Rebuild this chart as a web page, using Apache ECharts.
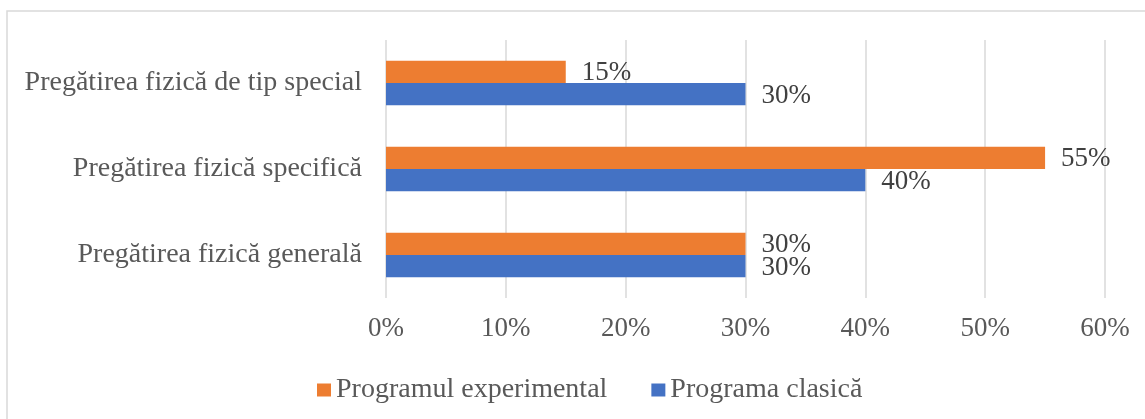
<!DOCTYPE html>
<html>
<head>
<meta charset="utf-8">
<script src="https://cdn.jsdelivr.net/npm/echarts@6/dist/echarts.min.js"></script>
<style>
  html, body { margin: 0; padding: 0; background: #fff; }
  #chart { width: 1145px; height: 419px; }
</style>
</head>
<body>
<div id="chart"></div>
<script>
// categories bottom -> top (as echarts draws the y category axis)
const categories = [
  'Pregătirea fizică generală',
  'Pregătirea fizică specifică',
  'Pregătirea fizică de tip special'
];
const experimental = [30, 55, 15];
const clasica = [30, 40, 30];
const seriesNames = ['Programul experimental', 'Programa clasică'];

const font = '"Liberation Serif", "Times New Roman", serif';
const chart = echarts.init(document.getElementById('chart'));

const labelOpt = {
  show: true,
  position: 'right',
  distance: 16,
  formatter: p => p.value + '%',
  fontFamily: font,
  fontSize: 27,
  color: '#404040'
};

chart.setOption({
  animation: false,
  graphic: [{
    type: 'rect',
    shape: { x: 7, y: 11, width: 1300, height: 600 },
    style: { fill: 'none', stroke: '#d9d9d9', lineWidth: 1.5 },
    silent: true
  }],
  grid: { left: 386, right: 40, top: 40, bottom: 121 },
  legend: {
    data: seriesNames,
    top: 371,
    left: 312,
    itemWidth: 14,
    itemHeight: 13,
    itemGap: 44,
    icon: 'rect',
    textStyle: { fontFamily: font, fontSize: 28, color: '#595959' }
  },
  xAxis: {
    type: 'value',
    min: 0,
    max: 60,
    interval: 10,
    axisLine: { show: false },
    axisTick: { show: false },
    axisLabel: {
      formatter: '{value}%',
      fontFamily: font,
      fontSize: 27,
      color: '#595959',
      margin: 17
    },
    splitLine: { lineStyle: { color: '#d9d9d9', width: 1.5 } }
  },
  yAxis: {
    type: 'category',
    data: categories,
    axisLine: { show: false },
    axisTick: { show: false },
    axisLabel: {
      fontFamily: font,
      fontSize: 28,
      color: '#595959',
      margin: 24
    }
  },
  series: [
    {
      name: seriesNames[0],
      type: 'bar',
      data: experimental,
      itemStyle: { color: '#ED7D31' },
      barGap: '0%',
      barCategoryGap: '48%',
      label: Object.assign({}, labelOpt, { offset: [0, 1] })
    },
    {
      name: seriesNames[1],
      type: 'bar',
      data: clasica,
      itemStyle: { color: '#4472C4' },
      barGap: '0%',
      barCategoryGap: '48%',
      label: Object.assign({}, labelOpt, { offset: [0, 2] })
    }
  ]
});
</script>
</body>
</html>
